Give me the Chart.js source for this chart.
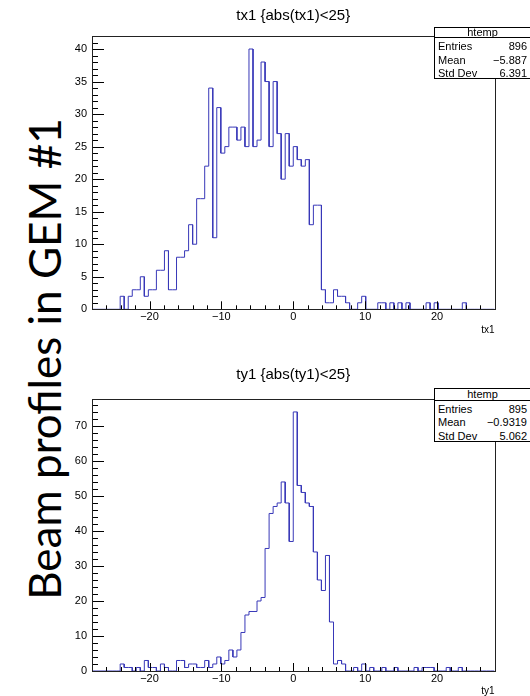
<!DOCTYPE html>
<html>
<head>
<meta charset="utf-8">
<script src="https://cdn.jsdelivr.net/npm/chart.js@4.4.1/dist/chart.umd.min.js"></script>
<style>
  body { margin: 0; width: 530px; height: 696px; background: #fff; position: relative; overflow: hidden;
         font-family: "Liberation Sans", Arial, sans-serif; }
  .wrap { position: absolute; left: 0; width: 530px; }
  #w1 { top: 0; height: 345px; }
  #w2 { top: 345px; height: 351px; }
  #side { position: absolute; left: 44px; top: 359px; white-space: nowrap; font-family: Lato, sans-serif;
          font-size: 48px; line-height: 1; transform: translate(-50%, -50%) rotate(-90deg); color: #000; }
  .stats { position: absolute; left: 434px; width: 97px; border: 1px solid #000; background: #fff;
           font-size: 11px; box-sizing: border-box; }
  .stats div { position: absolute; left: 0; right: 0; line-height: 12px; }
  .stats .hd { text-align: center; border-bottom: 1px solid #000; }
  .stats .l { left: 3px; }
  .stats .r { text-align: right; right: 3px; left: auto; }
</style>
</head>
<body>
<div id="side">Beam profiles in GEM #1</div>
<div class="wrap" id="w1"><canvas id="c1"></canvas></div>
<div class="wrap" id="w2"><canvas id="c2"></canvas></div>

<div class="stats" style="top:27px;height:52px">
  <div class="hd" style="top:-2px;height:11px">htemp</div>
  <div class="l" style="top:12px">Entries</div><div class="r" style="top:12px">896</div>
  <div class="l" style="top:26px">Mean</div><div class="r" style="top:26px">&minus;5.887</div>
  <div class="l" style="top:39px">Std Dev</div><div class="r" style="top:39px">6.391</div>
</div>
<div class="stats" style="top:388px;height:54px">
  <div class="hd" style="top:-1px;height:12px">htemp</div>
  <div class="l" style="top:14px">Entries</div><div class="r" style="top:14px">895</div>
  <div class="l" style="top:27px">Mean</div><div class="r" style="top:27px">&minus;0.9319</div>
  <div class="l" style="top:41px">Std Dev</div><div class="r" style="top:41px">5.062</div>
</div>

<script>
// histogram binning (100 bins from -28 to 28)
const xLow = -28, xHigh = 28;

// bin contents of tx1, read bin by bin
const tx1Counts = [
  0, 0, 0, 0, 0, 0, 0, 2, 0, 2,
  3, 3, 5, 2, 3, 3, 6, 6, 9, 3,
  3, 8, 8, 9, 13, 10, 17, 17, 22, 34,
  11, 31, 24, 25, 28, 28, 26, 28, 25, 40,
  25, 26, 38, 35, 25, 35, 27, 20, 27, 22,
  25, 23, 22, 23, 13, 16, 16, 3, 1, 1,
  3, 2, 2, 1, 0, 0, 1, 2, 0, 0,
  0, 1, 1, 0, 1, 0, 1, 0, 1, 0,
  0, 0, 0, 1, 0, 1, 0, 0, 0, 0,
  0, 0, 1, 0, 0, 0, 0, 0, 0, 0
];

// bin contents of ty1
const ty1Counts = [
  0, 0, 0, 0, 0, 0, 0, 2, 1, 1,
  0, 1, 0, 3, 1, 1, 0, 2, 1, 0,
  0, 3, 3, 1, 2, 2, 1, 1, 3, 1,
  2, 4, 2, 3, 6, 4, 6, 11, 16, 17,
  17, 20, 21, 35, 45, 47, 48, 54, 48, 37,
  74, 53, 51, 48, 47, 34, 26, 23, 33, 14,
  2, 3, 2, 0, 0, 1, 0, 2, 0, 1,
  0, 0, 1, 0, 0, 1, 0, 0, 0, 0,
  1, 0, 1, 1, 1, 0, 0, 0, 1, 0,
  0, 1, 0, 0, 0, 0, 0, 0, 0, 0
];

const histColor = '#3838b8';

// step outline like ROOT's default histogram drawing
function stepPoints(counts) {
  const w = (xHigh - xLow) / counts.length;
  const pts = [];
  counts.forEach((c, i) => {
    pts.push({x: xLow + i * w, y: c});
    pts.push({x: xLow + (i + 1) * w, y: c});
  });
  return pts;
}

const minusFmt = v => (v < 0 ? '\u2212' + Math.abs(v) : '' + v);

// frame + inside tick marks
const rootFrame = {
  id: 'rootFrame',
  afterDatasetsDraw(chart, args, opts) {
    const {ctx, chartArea: a, scales: {x, y}} = chart;
    ctx.save();
    ctx.strokeStyle = '#000';
    ctx.lineWidth = 1;
    ctx.beginPath();
    for (let v = x.min; v <= x.max + 1e-9; v += 2) {
      const px = Math.round(x.getPixelForValue(v)) + 0.5;
      const len = Math.abs(v % 10) < 1e-9 ? 8 : 4;
      ctx.moveTo(px, a.bottom);
      ctx.lineTo(px, a.bottom - len);
    }
    for (let v = 0; v <= y.max + 1e-9; v += opts.yMinor) {
      const py = Math.round(y.getPixelForValue(v)) + 0.5;
      const len = Math.abs(v % opts.yMajor) < 1e-9 ? 12 : 6;
      ctx.moveTo(a.left, py);
      ctx.lineTo(a.left + len, py);
    }
    ctx.stroke();
    ctx.strokeStyle = '#222';
    ctx.strokeRect(Math.round(a.left) + 0.5, Math.round(a.top) + 0.5,
                   Math.round(a.right - a.left), Math.round(a.bottom - a.top));
    ctx.restore();
  }
};

function makeHist(id, counts, title, xName, yMax, yStep, yMinor, titlePad, xAxisH, xTitlePad) {
  return new Chart(document.getElementById(id), {
    type: 'line',
    data: {
      datasets: [{
        label: xName,
        data: stepPoints(counts),
        borderColor: histColor,
        borderWidth: 1,
        pointRadius: 0,
        tension: 0,
        fill: false
      }]
    },
    options: {
      responsive: true,
      maintainAspectRatio: false,
      animation: false,
      layout: { padding: { left: 0, right: 35.5, top: 0, bottom: 0 } },
      plugins: {
        legend: { display: false },
        tooltip: { enabled: false },
        title: {
          display: true,
          text: title,
          fullSize: false,
          color: '#000',
          font: { family: '"Liberation Sans", Arial', size: 15, weight: 'normal' },
          padding: titlePad
        },
        rootFrame: { yMajor: yStep, yMinor: yMinor }
      },
      scales: {
        x: {
          type: 'linear',
          min: xLow,
          max: xHigh,
          grid: { display: false, drawTicks: false },
          border: { display: false },
          afterFit: s => { s.height = xAxisH; },
          ticks: {
            stepSize: 10,
            includeBounds: false,
            padding: 1,
            maxRotation: 0,
            color: '#000',
            font: { family: '"Liberation Sans", Arial', size: 11 },
            callback: minusFmt
          },
          title: {
            display: true,
            text: xName,
            align: 'end',
            color: '#000',
            font: { family: '"Liberation Sans", Arial', size: 10, lineHeight: 1 },
            padding: { top: 0, bottom: xTitlePad }
          }
        },
        y: {
          min: 0,
          max: yMax,
          grid: { display: false, drawTicks: false },
          border: { display: false },
          afterFit: s => { s.width = 92; },
          ticks: {
            stepSize: yStep,
            includeBounds: false,
            padding: 5,
            color: '#000',
            font: { family: '"Liberation Sans", Arial', size: 11 }
          }
        }
      }
    },
    plugins: [rootFrame]
  });
}

makeHist('c1', tx1Counts, 'tx1 {abs(tx1)<25}', 'tx1', 42, 5, 1, { top: 6.5, bottom: 11.5 }, 35.7, 10);
makeHist('c2', ty1Counts, 'ty1 {abs(ty1)<25}', 'ty1', 77.7, 10, 2, { top: 21, bottom: 15 }, 25, 0);

// fit the side caption to its length on the slide
const side = document.getElementById('side');
const fitSide = () => {
  const w = side.offsetWidth;
  if (w > 0) side.style.fontSize = (48 * 482 / w) + 'px';
};
fitSide();
</script>
</body>
</html>
